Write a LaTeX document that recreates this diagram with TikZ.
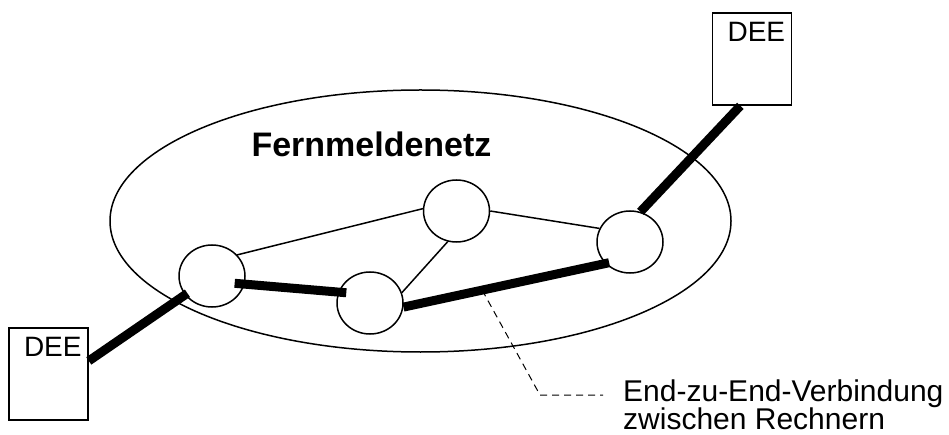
\documentclass[tikz,border=0pt]{standalone}
\usepackage{fontspec}
\setmainfont{Liberation Sans}
\usetikzlibrary{positioning,shapes.geometric}

\tikzset{
  knoten/.style={draw, ellipse, line width=1.5pt, minimum width=66pt, minimum height=62pt, inner sep=0pt},
  endgeraet/.style={draw, rectangle, line width=1.6pt, minimum width=79pt, minimum height=92pt, inner sep=0pt},
  geraetname/.style={anchor=north east, inner sep=0pt, font=\fontsize{28}{34}\selectfont},
  duenn/.style={line width=1.5pt},
  dick/.style={line width=9pt},
  hinweis/.style={line width=1pt, dash pattern=on 7pt off 5pt},
}

\begin{document}
\begin{tikzpicture}[x=1pt, y=-1pt]
        \useasboundingbox (0,0) rectangle (949,435);
        % Draw the network
        \node[draw, ellipse, line width=1.5pt, minimum width=621pt, minimum height=262pt] (netz) at (420.5,221) {};
        \node[anchor=base, inner sep=0pt, font=\bfseries\fontsize{34}{40}\selectfont] (netzname) at (371.5,157) {Fernmeldenetz};
        % Draw the switching nodes
        \node[knoten] (k1) at (212,276) {};
        \node[knoten] (k2) at (370,303) {};
        \node[knoten] (k3) at (456.5,211) {};
        \node[knoten] (k4) at (630,242) {};
        % Draw the terminals
        \node[endgeraet] (deeL) at (48.5,374) {};
        \node[geraetname] (deeLtext) at ([xshift=-7pt, yshift=-10pt]deeL.north east) {DEE};
        \node[endgeraet] (deeR) at (752,59) {};
        \node[geraetname] (deeRtext) at ([xshift=-7pt, yshift=-10pt]deeR.north east) {DEE};
        % Draw the thin links
        \draw[duenn] (k1.40) -- (k3.176);
        \draw[duenn] (k3.0) -- (k4.156);
        \draw[duenn] (k3.254) -- (k2.18);
        % Draw the end-to-end path
        \draw[dick, shorten >=-3pt] (deeL.18) -- (k1.215);
        \draw[dick, shorten <=-10pt, shorten >=-8pt] (k1.-14) -- (k2.161);
        \draw[dick, shorten >=-4pt] (k2.-7) -- coordinate[pos=0.39] (mitte) (k4.221);
        \draw[dick] (k4.71) -- (deeR.256);
        % Point to the path
        \coordinate (knick) at (540,395);
        \coordinate (strichende) at (603,395);
        \draw[hinweis] (mitte) -- (knick) -- (strichende);
        \node[anchor=north west, align=left, inner sep=0pt, font=\fontsize{30}{28}\selectfont] (erklaerung) at (623,380) {End-zu-End-Verbindung\\zwischen Rechnern};
\end{tikzpicture}
\end{document}
